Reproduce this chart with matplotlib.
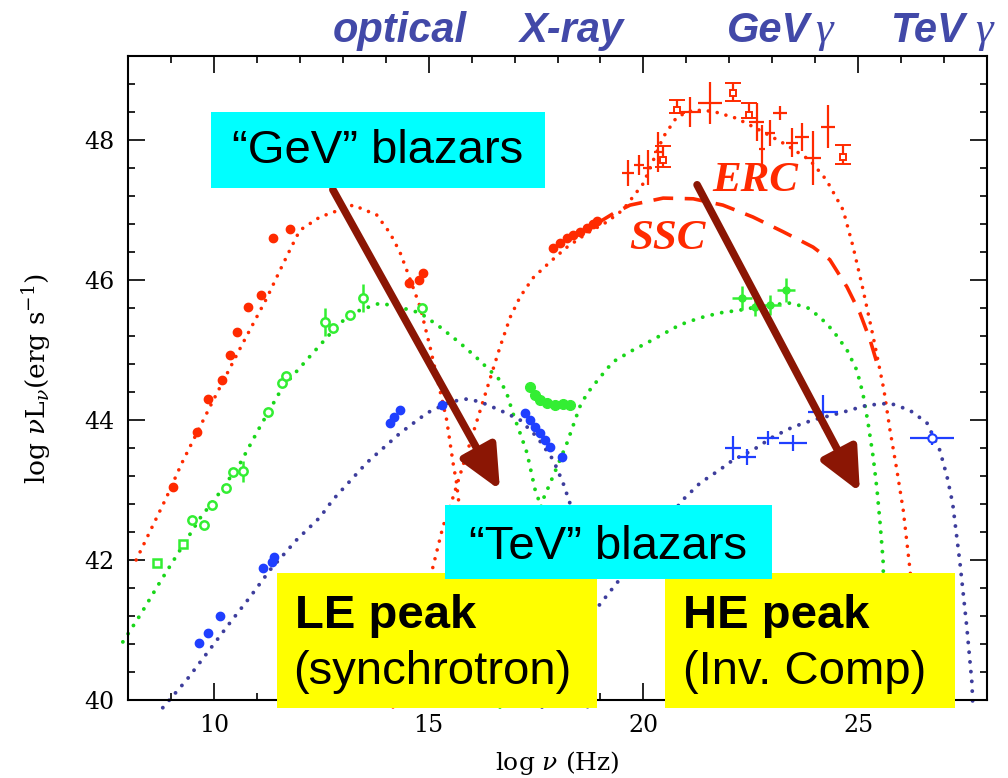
import matplotlib
matplotlib.use("Agg")
import matplotlib.pyplot as plt
from matplotlib.patches import Rectangle
from matplotlib.ticker import MultipleLocator

plt.rcParams['font.family'] = 'DejaVu Serif'
plt.rcParams['mathtext.fontset'] = 'dejavuserif'

# ---- model curves (log nu, log nuL_nu) ----------------------------------
red_sync_x = [8.19, 8.9, 9.25, 9.95, 10.65, 11.23, 11.54, 11.77, 12.0, 12.47, 13.24, 13.79, 14.1,
              14.33, 14.49, 14.8, 15.03, 15.19, 15.42, 15.57, 15.65, 15.8, 15.95, 16.1]
red_sync_y = [42.0, 42.9, 43.38, 44.24, 45.07, 45.74, 46.14, 46.43, 46.71, 46.9, 47.07, 46.93, 46.67,
              46.4, 46.14, 45.62, 45.05, 44.62, 44.0, 43.38, 43.1, 42.3, 41.3, 39.9]
red_ic_x = [14.17, 15.1, 15.33, 15.57, 16.66, 16.9, 17.13, 17.43, 17.83, 18.2, 18.69, 19.15, 19.52,
            20.0, 20.46, 20.78, 21.16, 21.62, 22.17, 22.71, 23.33, 23.88, 24.26, 24.65, 24.88, 25.1,
            25.35, 25.6, 25.74, 25.9, 26.05, 26.2, 26.35, 26.45]
red_ic_y = [39.9, 41.9, 42.47, 42.9, 45.04, 45.47, 45.76, 46.03, 46.26, 46.46, 46.67, 46.83, 47.0,
            47.38, 48.04, 48.33, 48.43, 48.41, 48.31, 48.14, 47.93, 47.71, 47.43, 47.0, 46.48, 45.9,
            45.19, 44.43, 43.86, 43.29, 42.71, 41.9, 41.0, 39.9]
ssc_x = [18.9, 19.3, 19.69, 20.46, 21.16, 21.85, 22.55, 23.25, 23.95, 24.34, 24.74, 25.04, 25.28, 25.44]
ssc_y = [46.8, 46.95, 47.07, 47.17, 47.16, 47.07, 46.9, 46.69, 46.47, 46.29, 45.9, 45.53, 45.14, 44.81]

green_sync_x = [7.88, 8.28, 8.75, 9.21, 9.68, 10.06, 10.61, 11.07, 11.6, 12.31, 12.94, 13.4, 13.87,
                14.33, 14.8, 15.26, 15.73, 16.1, 16.66, 16.82, 16.96, 17.13, 17.29, 17.48, 17.59,
                17.85, 18.1]
green_sync_y = [40.83, 41.21, 41.69, 42.14, 42.6, 42.9, 43.38, 43.9, 44.47, 44.96, 45.39, 45.57, 45.67,
                45.61, 45.53, 45.33, 45.1, 44.9, 44.57, 44.38, 44.1, 43.81, 43.53, 43.0, 42.81,
                41.8, 39.9]
green_ic_x = [16.66, 17.2, 17.66, 17.76, 17.99, 18.22, 18.52, 18.69, 18.99, 19.29, 19.76, 20.08, 20.85,
              21.32, 21.78, 22.25, 22.88, 23.41, 23.81, 24.11, 24.41, 24.74, 24.97, 25.11, 25.23,
              25.35, 25.44, 25.51, 25.58, 25.65]
green_ic_y = [39.9, 41.8, 42.86, 43.0, 43.33, 43.67, 44.19, 44.38, 44.61, 44.83, 45.0, 45.1, 45.36,
              45.46, 45.53, 45.57, 45.64, 45.67, 45.61, 45.47, 45.28, 45.0, 44.71, 44.38, 43.96,
              43.47, 43.0, 42.53, 42.0, 39.9]

blue_sync_x = [8.81, 9.37, 9.84, 10.37, 10.84, 11.31, 11.93, 12.47, 12.77, 13.56, 14.33, 14.96, 15.5,
               15.89, 16.2, 16.66, 17.13, 17.52, 17.9, 18.13, 18.29, 18.5, 18.7]
blue_sync_y = [39.89, 40.29, 40.67, 41.1, 41.47, 41.86, 42.29, 42.61, 42.86, 43.39, 43.81, 44.1, 44.26,
               44.3, 44.26, 44.14, 44.0, 43.76, 43.43, 43.1, 42.81, 41.8, 39.9]
blue_ic_x = [17.64, 18.94, 20.92, 21.32, 21.78, 22.09, 22.55, 23.02, 23.48, 23.95, 24.58, 25.2, 25.74,
             26.2, 26.6, 26.9, 27.07, 27.2, 27.37, 27.53, 27.65, 27.67]
blue_ic_y = [39.9, 41.33, 42.86, 43.1, 43.29, 43.43, 43.57, 43.76, 43.9, 44.0, 44.1, 44.21, 44.24,
             44.14, 43.96, 43.57, 43.19, 42.81, 41.96, 41.04, 40.24, 39.9]

# ---- observed points ------------------------------------------------------
red_pts_x = [9.05, 9.6, 9.87, 10.19, 10.37, 10.54, 10.79, 11.1, 11.38, 11.77, 14.54, 14.78, 14.87,
             17.9, 18.06, 18.22, 18.36, 18.52, 18.69, 18.83, 18.92]
red_pts_y = [43.04, 43.83, 44.3, 44.57, 44.93, 45.26, 45.61, 45.79, 46.6, 46.73, 45.96, 46.0, 46.1,
             46.46, 46.53, 46.6, 46.64, 46.69, 46.74, 46.8, 46.84]

red_gev_x = [19.64, 19.9, 20.1, 20.34, 21.08, 21.55, 22.64, 22.75, 22.95, 23.18, 23.46, 23.69, 23.95, 24.3]
red_gev_y = [47.53, 47.64, 47.6, 47.83, 48.4, 48.53, 48.26, 47.87, 48.1, 48.39, 47.96, 48.04, 47.74, 48.19]
red_gev_xerr = [0.14, 0.12, 0.1, 0.1, 0.25, 0.29, 0.17, 0.07, 0.12, 0.17, 0.14, 0.17, 0.19, 0.17]
red_gev_yerr = [0.19, 0.14, 0.25, 0.28, 0.21, 0.3, 0.27, 0.34, 0.18, 0.1, 0.21, 0.2, 0.39, 0.31]
red_lim_x = [20.46, 20.78, 22.09, 22.46, 24.65]
red_lim_y = [47.71, 48.43, 48.67, 48.36, 47.76]
red_lim_up = [0.2, 0.14, 0.15, 0.17, 0.17]
red_lim_down = [0.1, 0.05, 0.12, 0.05, 0.1]

green_sq_x = [8.68, 9.28]
green_sq_y = [41.96, 42.23]
green_pts_x = [9.49, 9.77, 9.96, 10.28, 10.44, 11.26, 11.59, 11.68, 12.77, 13.17, 14.85]
green_pts_y = [42.57, 42.5, 42.79, 43.03, 43.26, 44.11, 44.53, 44.63, 45.31, 45.5, 45.6]
green_xray_x = [17.36, 17.48, 17.59, 17.76, 17.94, 18.13, 18.29]
green_xray_y = [44.47, 44.36, 44.29, 44.24, 44.21, 44.23, 44.21]
green_err_x = [10.68, 12.59, 13.47]
green_err_y = [43.27, 45.4, 45.74]
green_err_yerr = [0.15, 0.2, 0.2]
green_gev_x = [22.3, 22.6, 22.95, 23.32]
green_gev_y = [45.74, 45.61, 45.64, 45.86]
green_gev_xerr = [0.23, 0.12, 0.25, 0.21]
green_gev_yerr = [0.17, 0.12, 0.14, 0.17]

blue_pts_x = [9.65, 9.86, 10.14, 11.14, 11.35, 11.4, 14.1, 14.2, 14.33, 15.31,
              17.24, 17.36, 17.48, 17.59, 17.71, 17.83, 18.1]
blue_pts_y = [40.81, 40.96, 41.2, 41.89, 41.97, 42.04, 43.96, 44.05, 44.14, 44.21,
              44.1, 44.0, 43.9, 43.81, 43.71, 43.61, 43.47]
blue_gev_x = [22.09, 22.41, 22.9, 23.48, 24.18, 26.72]
blue_gev_y = [43.6, 43.47, 43.74, 43.67, 44.11, 43.74]
blue_gev_xerr = [0.19, 0.21, 0.25, 0.33, 0.35, 0.52]
blue_gev_yerr = [0.17, 0.12, 0.1, 0.11, 0.24, 0.1]

RED = '#ff2a00'
GREEN = '#19d619'
GREEN_PT = '#33ee33'
BLUE_PT = '#1f3fff'
BLUE_LINE = '#3d3d9c'
ARROW = '#8b1604'
LABEL_BLUE = '#4249a8'

W, H = 1008, 778


def fpos(x, y):
    # pixel position (from top-left) -> figure fraction
    return x / W, 1 - y / H


def dotted(ax, x, y, color, lw=2.8):
    ax.plot(x, y, color=color, lw=lw, linestyle=(0, (0.01, 2.5)),
            dash_capstyle='round', clip_on=False, zorder=2)


fig = plt.figure(figsize=(10.08, 7.78), dpi=100)
ax = fig.add_axes([128 / W, 78 / H, (987 - 128) / W, (722 - 78) / H])
ax.set_xlim(8, 28)
ax.set_ylim(40, 49.2)

# model curves
dotted(ax, red_sync_x, red_sync_y, RED, 2.6)
dotted(ax, red_ic_x, red_ic_y, RED, 2.6)
ax.plot(ssc_x, ssc_y, color=RED, lw=2.6, linestyle=(0, (5.5, 3.2)), zorder=2)
dotted(ax, green_sync_x, green_sync_y, GREEN)
dotted(ax, green_ic_x, green_ic_y, GREEN)
dotted(ax, blue_sync_x, blue_sync_y, BLUE_LINE)
dotted(ax, blue_ic_x, blue_ic_y, BLUE_LINE)

# data points
ax.plot(red_pts_x, red_pts_y, 'o', color=RED, ms=6, zorder=3)
ax.errorbar(red_gev_x, red_gev_y, xerr=red_gev_xerr, yerr=red_gev_yerr, fmt='none',
            ecolor=RED, elinewidth=1.6, zorder=3)
ax.errorbar(red_lim_x, red_lim_y, yerr=[red_lim_down, red_lim_up], fmt='s', ms=5,
            mfc='white', mec=RED, mew=1.4, ecolor=RED, elinewidth=1.6, capsize=6,
            capthick=1.6, zorder=3)

ax.plot(green_sq_x, green_sq_y, 's', color=GREEN_PT, mfc='white', mew=1.8, ms=5.5, zorder=3)
ax.plot(green_pts_x, green_pts_y, 'o', color=GREEN_PT, mfc='white', mew=1.8, ms=6, zorder=3)
ax.plot(green_xray_x, green_xray_y, 'o', color=GREEN_PT, ms=7, zorder=3)
ax.errorbar(green_err_x, green_err_y, yerr=green_err_yerr, fmt='o', ms=6, mfc='white',
            mec=GREEN_PT, mew=1.8, ecolor=GREEN_PT, elinewidth=1.8, zorder=3)
ax.errorbar(green_gev_x, green_gev_y, xerr=green_gev_xerr, yerr=green_gev_yerr, fmt='o', ms=5,
            color=GREEN_PT, elinewidth=1.8, zorder=3)

ax.plot(blue_pts_x, blue_pts_y, 'o', color=BLUE_PT, ms=6, zorder=3)
ax.errorbar(blue_gev_x[:-1], blue_gev_y[:-1], xerr=blue_gev_xerr[:-1], yerr=blue_gev_yerr[:-1],
            fmt='none', ecolor=BLUE_PT, elinewidth=1.6, zorder=3)
ax.errorbar(blue_gev_x[-1:], blue_gev_y[-1:], xerr=blue_gev_xerr[-1:], yerr=blue_gev_yerr[-1:],
            fmt='o', ms=6, mfc='white', mec=BLUE_PT, mew=1.5, ecolor=BLUE_PT, elinewidth=1.6,
            zorder=3)

# axes styling
ax.xaxis.set_major_locator(MultipleLocator(5))
ax.xaxis.set_minor_locator(MultipleLocator(1))
ax.yaxis.set_major_locator(MultipleLocator(2))
ax.yaxis.set_minor_locator(MultipleLocator(0.4))
ax.tick_params(which='both', direction='in', top=True, right=True, width=1.2, labelsize=17)
ax.tick_params(which='major', length=12, pad=10)
ax.tick_params(which='minor', length=5)
for sp in ax.spines.values():
    sp.set_linewidth(1.5)
ax.set_xlabel(r'log $\nu$ (Hz)', fontsize=18, labelpad=9)
ax.set_ylabel(r'log $\nu$L$_\nu$(erg s$^{-1}$)', fontsize=19, labelpad=22)

ax.text(22.6, 47.41, 'ERC', color=RED, fontsize=31, family='Liberation Serif',
        weight='bold', style='italic', ha='center', va='center', zorder=4)
ax.text(20.55, 46.59, 'SSC', color=RED, fontsize=31, family='Liberation Serif',
        weight='bold', style='italic', ha='center', va='center', zorder=4)

# trend arrows
for start, tip in [((12.77, 47.29), (16.66, 43.0)), ((21.25, 47.36), (25.04, 42.97))]:
    ax.annotate('', xy=tip, xytext=start, annotation_clip=False,
                arrowprops=dict(arrowstyle='-|>,head_length=1.3,head_width=0.6',
                                mutation_scale=20, lw=5.5, color=ARROW,
                                shrinkA=0, shrinkB=0), zorder=5)

# band labels above the frame
band_font = dict(family='Liberation Sans', weight='bold', style='italic', fontsize=30,
                 color=LABEL_BLUE, va='baseline')
fig.text(*fpos(333, 42), 'optical', ha='left', **band_font)
fig.text(*fpos(520, 42), 'X-ray', ha='left', **band_font)
fig.text(*fpos(727, 42), 'GeV', ha='left', **band_font)
fig.text(*fpos(890, 42), 'TeV', ha='left', **band_font)
gamma_font = dict(family='Liberation Serif', style='italic', fontsize=32, color=LABEL_BLUE,
                  va='baseline', ha='left')
fig.text(*fpos(815, 42), 'γ', **gamma_font)
fig.text(*fpos(975, 42), 'γ', **gamma_font)

# highlight boxes
boxes = [(211, 112, 545, 188, '#00ffff', 6),
         (277, 573, 597, 708, '#ffff00', 6),
         (665, 573, 955, 708, '#ffff00', 6),
         (445, 505, 772, 579, '#00ffff', 7)]
for x0, y0, x1, y1, col, z in boxes:
    fig.add_artist(Rectangle(fpos(x0, y1), (x1 - x0) / W, (y1 - y0) / H,
                             transform=fig.transFigure, facecolor=col, edgecolor='none',
                             zorder=z))

box_font = dict(family='Liberation Sans', fontsize=34, color='black', va='baseline', zorder=8)
fig.text(*fpos(378, 163), '“GeV” blazars', ha='center', **box_font)
fig.text(*fpos(608, 559), '“TeV” blazars', ha='center', **box_font)
fig.text(*fpos(295, 628), 'LE peak', ha='left', weight='bold', **box_font)
fig.text(*fpos(293, 684), '(synchrotron)', ha='left', **box_font)
fig.text(*fpos(683, 628), 'HE peak', ha='left', weight='bold', **box_font)
fig.text(*fpos(683, 684), '(Inv. Comp)', ha='left', **box_font)

fig.savefig('out.png', dpi=100)
